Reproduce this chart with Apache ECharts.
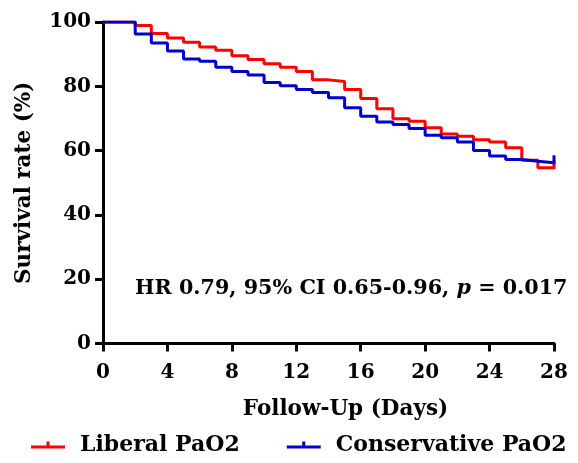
<!DOCTYPE html>
<html>
<head>
<meta charset="utf-8">
<script src="https://cdn.jsdelivr.net/npm/echarts@6/dist/echarts.min.js"></script>
<style>
html,body{margin:0;padding:0;background:#fff;}
#chart{width:578px;height:463px;}
</style>
</head>
<body>
<div id="chart"></div>
<script>
// Follow-up day at which each step occurs (last entry = end of follow-up)
const days = [0, 2, 3, 4, 5, 6, 7, 8, 9, 10, 11, 12, 13, 14, 15, 16, 17, 18, 19, 20, 21, 22, 23, 24, 25, 26, 27, 28];
const liberal = [100, 98.9, 96.4, 95.0, 93.7, 92.2, 91.2, 89.5, 88.3, 87.0, 85.9, 84.6, 82.0, 81.5, 79.0, 76.2, 73.0, 69.9, 69.1, 67.1, 65.2, 64.5, 63.4, 62.7, 60.9, 57.0, 54.7, 54.7];
const conservative = [100, 96.3, 93.5, 91.0, 88.5, 87.8, 85.9, 84.6, 83.5, 81.2, 80.2, 79.0, 78.1, 76.4, 73.3, 70.7, 68.9, 68.1, 66.9, 64.8, 64.0, 62.7, 60.0, 58.3, 57.2, 56.7, 56.2, 56.2];
const seriesNames = ['Liberal PaO2', 'Conservative PaO2'];
const xTicks = [0, 4, 8, 12, 16, 20, 24, 28];
const yTicks = [0, 20, 40, 60, 80, 100];
const xTitle = 'Follow-Up (Days)';
const yTitle = 'Survival rate (%)';
const annotation = ['HR 0.79, 95% CI 0.65-0.96, ', 'p', ' = 0.017'];

const FONT = "'DejaVu Serif', 'Liberation Serif', serif";
const RED = '#ff0000';
const BLUE = '#0000cc';

function build(vals) {
  return days.map((d, i) => {
    if (i === days.length - 1) {
      return { value: [d, vals[i]], symbol: 'rect', symbolSize: [3, 9], symbolOffset: [0, -3] };
    }
    return { value: [d, vals[i]], symbol: 'none' };
  });
}

const legendIcon = 'path://M0,6 L34,6 L34,9 L0,9 Z M15.5,2 L18.5,2 L18.5,7 L15.5,7 Z';

const chart = echarts.init(document.getElementById('chart'));
chart.setOption({
  animation: false,
  backgroundColor: '#fff',
  grid: { left: 103, right: 24, top: 22, bottom: 119.5 },
  xAxis: {
    type: 'value', min: xTicks[0], max: xTicks[xTicks.length - 1], interval: 4,
    name: xTitle, nameLocation: 'middle', nameGap: 55,
    nameTextStyle: { fontFamily: FONT, fontWeight: 'bold', fontSize: 21.5, color: '#000', padding: [0, 0, 0, 34] },
    axisLine: { lineStyle: { color: '#000', width: 3 } },
    axisTick: { length: 8, lineStyle: { color: '#000', width: 3 } },
    axisLabel: { margin: 19, fontFamily: FONT, fontWeight: 'bold', fontSize: 20, color: '#000' },
    splitLine: { show: false }
  },
  yAxis: {
    type: 'value', min: yTicks[0], max: yTicks[yTicks.length - 1], interval: 20,
    name: yTitle, nameLocation: 'middle', nameGap: 68,
    nameTextStyle: { fontFamily: FONT, fontWeight: 'bold', fontSize: 21.5, color: '#000' },
    axisLine: { show: true, lineStyle: { color: '#000', width: 3 } },
    axisTick: { show: true, length: 8, inside: false, lineStyle: { color: '#000', width: 3 } },
    axisLabel: { margin: 12, fontFamily: FONT, fontWeight: 'bold', fontSize: 20, color: '#000' },
    splitLine: { show: false }
  },
  legend: {
    bottom: 2, left: 26, itemGap: 47, itemWidth: 34, itemHeight: 11,
    textStyle: { fontFamily: FONT, fontWeight: 'bold', fontSize: 22, color: '#000', padding: [0, 0, 0, 10] },
    data: [
      { name: seriesNames[0], icon: legendIcon },
      { name: seriesNames[1], icon: legendIcon }
    ]
  },
  series: [
    {
      name: seriesNames[0], type: 'line', step: 'end', symbol: 'none', showSymbol: true,
      color: RED, lineStyle: { color: RED, width: 3 }, itemStyle: { color: RED },
      data: build(liberal)
    },
    {
      name: seriesNames[1], type: 'line', step: 'end', symbol: 'none', showSymbol: true,
      color: BLUE, lineStyle: { color: BLUE, width: 3 }, itemStyle: { color: BLUE },
      data: build(conservative)
    }
  ],
  graphic: [{
    type: 'text', left: 135, top: 278,
    style: {
      text: '{a|' + annotation[0] + '}{b|' + annotation[1] + '}{a|' + annotation[2] + '}',
      rich: {
        a: { fontFamily: FONT, fontWeight: 'bold', fontSize: 20.7, fill: '#000' },
        b: { fontFamily: FONT, fontWeight: 'bold', fontStyle: 'italic', fontSize: 20.7, fill: '#000' }
      }
    }
  }]
});
</script>
</body>
</html>
